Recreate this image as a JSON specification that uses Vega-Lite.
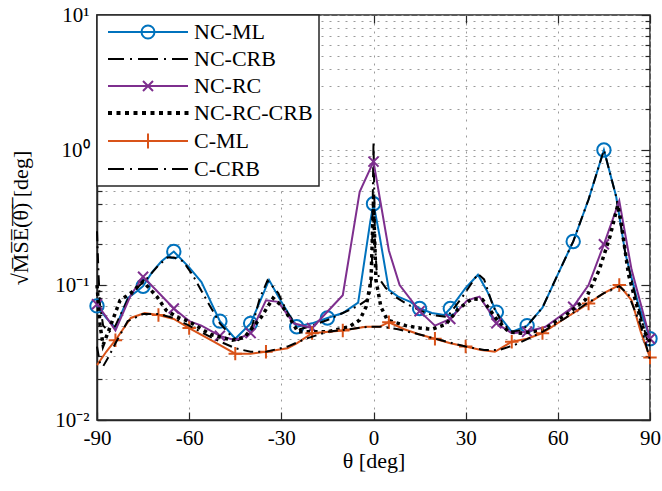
{
  "$schema": "https://vega.github.io/schema/vega-lite/v6.json",
  "width": 553,
  "height": 405,
  "autosize": {"type": "none"},
  "padding": {"left": 97, "top": 15, "right": 12, "bottom": 71},
  "background": "white",
  "config": {
    "font": "Liberation Serif",
    "view": {"stroke": "#262626", "strokeWidth": 1.5},
    "legend": {
      "orient": "top-left",
      "offset": 0,
      "padding": 6,
      "rowPadding": 5,
      "symbolSize": 400,
      "symbolStrokeWidth": 2,
      "symbolOffset": 34,
      "labelOffset": 35,
      "labelFont": "Liberation Serif",
      "labelFontSize": 22,
      "labelColor": "#000000",
      "labelLimit": 300,
      "fillColor": "white",
      "strokeColor": "#262626",
      "strokeWidth": 1.5,
      "symbolOpacity": 1,
      "symbolFillColor": "transparent"
    }
  },
  "datasets": {
    "curves": [
      {"s":"NC-ML","t":-90,"v":0.070},{"s":"NC-ML","t":-87,"v":0.057},{"s":"NC-ML","t":-84,"v":0.048},{"s":"NC-ML","t":-80,"v":0.080},{"s":"NC-ML","t":-77,"v":0.090},{"s":"NC-ML","t":-75,"v":0.098},{"s":"NC-ML","t":-72,"v":0.125},{"s":"NC-ML","t":-69,"v":0.150},{"s":"NC-ML","t":-65,"v":0.177},{"s":"NC-ML","t":-60,"v":0.135},{"s":"NC-ML","t":-56,"v":0.105},{"s":"NC-ML","t":-50,"v":0.054},{"s":"NC-ML","t":-45,"v":0.040},{"s":"NC-ML","t":-40,"v":0.052},{"s":"NC-ML","t":-37,"v":0.075},{"s":"NC-ML","t":-34,"v":0.109},{"s":"NC-ML","t":-30,"v":0.075},{"s":"NC-ML","t":-25,"v":0.049},{"s":"NC-ML","t":-20,"v":0.052},{"s":"NC-ML","t":-15,"v":0.057},{"s":"NC-ML","t":-10,"v":0.062},{"s":"NC-ML","t":-5,"v":0.074},{"s":"NC-ML","t":-1,"v":0.30},{"s":"NC-ML","t":0,"v":0.40},{"s":"NC-ML","t":2,"v":0.23},{"s":"NC-ML","t":5,"v":0.092},{"s":"NC-ML","t":8,"v":0.082},{"s":"NC-ML","t":12,"v":0.075},{"s":"NC-ML","t":15,"v":0.067},{"s":"NC-ML","t":19,"v":0.062},{"s":"NC-ML","t":23,"v":0.060},{"s":"NC-ML","t":25,"v":0.067},{"s":"NC-ML","t":30,"v":0.095},{"s":"NC-ML","t":34,"v":0.119},{"s":"NC-ML","t":37,"v":0.090},{"s":"NC-ML","t":40,"v":0.063},{"s":"NC-ML","t":45,"v":0.045},{"s":"NC-ML","t":50,"v":0.050},{"s":"NC-ML","t":55,"v":0.068},{"s":"NC-ML","t":60,"v":0.120},{"s":"NC-ML","t":65,"v":0.21},{"s":"NC-ML","t":70,"v":0.43},{"s":"NC-ML","t":75,"v":1.0},{"s":"NC-ML","t":79,"v":0.45},{"s":"NC-ML","t":82,"v":0.17},{"s":"NC-ML","t":86,"v":0.075},{"s":"NC-ML","t":90,"v":0.040},

      {"s":"NC-CRB","t":-90,"v":0.25},{"s":"NC-CRB","t":-89.5,"v":0.12},{"s":"NC-CRB","t":-89,"v":0.07},{"s":"NC-CRB","t":-88,"v":0.05},{"s":"NC-CRB","t":-86,"v":0.045},{"s":"NC-CRB","t":-84,"v":0.05},{"s":"NC-CRB","t":-80,"v":0.078},{"s":"NC-CRB","t":-77,"v":0.095},{"s":"NC-CRB","t":-74,"v":0.11},{"s":"NC-CRB","t":-70,"v":0.14},{"s":"NC-CRB","t":-67,"v":0.16},{"s":"NC-CRB","t":-65,"v":0.16},{"s":"NC-CRB","t":-62,"v":0.15},{"s":"NC-CRB","t":-59,"v":0.12},{"s":"NC-CRB","t":-54,"v":0.075},{"s":"NC-CRB","t":-50,"v":0.052},{"s":"NC-CRB","t":-46,"v":0.041},{"s":"NC-CRB","t":-44,"v":0.039},{"s":"NC-CRB","t":-40,"v":0.045},{"s":"NC-CRB","t":-37,"v":0.08},{"s":"NC-CRB","t":-34.5,"v":0.108},{"s":"NC-CRB","t":-31,"v":0.087},{"s":"NC-CRB","t":-28,"v":0.062},{"s":"NC-CRB","t":-24,"v":0.047},{"s":"NC-CRB","t":-20,"v":0.050},{"s":"NC-CRB","t":-15,"v":0.055},{"s":"NC-CRB","t":-10,"v":0.062},{"s":"NC-CRB","t":-5,"v":0.070},{"s":"NC-CRB","t":-2,"v":0.078},{"s":"NC-CRB","t":-1,"v":0.09},{"s":"NC-CRB","t":-0.5,"v":0.15},{"s":"NC-CRB","t":0,"v":1.15},{"s":"NC-CRB","t":0.5,"v":0.2},{"s":"NC-CRB","t":1,"v":0.13},{"s":"NC-CRB","t":2,"v":0.11},{"s":"NC-CRB","t":4,"v":0.095},{"s":"NC-CRB","t":7,"v":0.082},{"s":"NC-CRB","t":11,"v":0.072},{"s":"NC-CRB","t":15,"v":0.065},{"s":"NC-CRB","t":19,"v":0.060},{"s":"NC-CRB","t":24,"v":0.058},{"s":"NC-CRB","t":29,"v":0.082},{"s":"NC-CRB","t":34,"v":0.121},{"s":"NC-CRB","t":36,"v":0.11},{"s":"NC-CRB","t":39,"v":0.069},{"s":"NC-CRB","t":42,"v":0.052},{"s":"NC-CRB","t":45,"v":0.045},{"s":"NC-CRB","t":48,"v":0.046},{"s":"NC-CRB","t":50,"v":0.050},{"s":"NC-CRB","t":55,"v":0.068},{"s":"NC-CRB","t":60,"v":0.12},{"s":"NC-CRB","t":65,"v":0.21},{"s":"NC-CRB","t":70,"v":0.43},{"s":"NC-CRB","t":75,"v":1.0},{"s":"NC-CRB","t":79,"v":0.45},{"s":"NC-CRB","t":82,"v":0.17},{"s":"NC-CRB","t":86,"v":0.07},{"s":"NC-CRB","t":89,"v":0.04},{"s":"NC-CRB","t":90,"v":0.035},

      {"s":"NC-RC","t":-90,"v":0.072},{"s":"NC-RC","t":-87,"v":0.058},{"s":"NC-RC","t":-84,"v":0.046},{"s":"NC-RC","t":-79,"v":0.084},{"s":"NC-RC","t":-75,"v":0.115},{"s":"NC-RC","t":-70,"v":0.088},{"s":"NC-RC","t":-65,"v":0.067},{"s":"NC-RC","t":-60,"v":0.054},{"s":"NC-RC","t":-56,"v":0.050},{"s":"NC-RC","t":-50,"v":0.042},{"s":"NC-RC","t":-45,"v":0.039},{"s":"NC-RC","t":-40,"v":0.044},{"s":"NC-RC","t":-35,"v":0.077},{"s":"NC-RC","t":-31,"v":0.075},{"s":"NC-RC","t":-26,"v":0.052},{"s":"NC-RC","t":-20,"v":0.048},{"s":"NC-RC","t":-10,"v":0.084},{"s":"NC-RC","t":-4.5,"v":0.49},{"s":"NC-RC","t":0,"v":0.82},{"s":"NC-RC","t":5,"v":0.18},{"s":"NC-RC","t":8.5,"v":0.10},{"s":"NC-RC","t":15,"v":0.064},{"s":"NC-RC","t":20,"v":0.050},{"s":"NC-RC","t":25,"v":0.056},{"s":"NC-RC","t":30.5,"v":0.077},{"s":"NC-RC","t":34.5,"v":0.082},{"s":"NC-RC","t":38.5,"v":0.060},{"s":"NC-RC","t":40,"v":0.052},{"s":"NC-RC","t":45,"v":0.044},{"s":"NC-RC","t":50,"v":0.045},{"s":"NC-RC","t":56,"v":0.049},{"s":"NC-RC","t":65,"v":0.069},{"s":"NC-RC","t":70,"v":0.10},{"s":"NC-RC","t":75,"v":0.20},{"s":"NC-RC","t":80,"v":0.42},{"s":"NC-RC","t":84,"v":0.13},{"s":"NC-RC","t":90,"v":0.040},

      {"s":"NC-RC-CRB","t":-90,"v":0.10},{"s":"NC-RC-CRB","t":-89,"v":0.05},{"s":"NC-RC-CRB","t":-88,"v":0.036},{"s":"NC-RC-CRB","t":-86.5,"v":0.044},{"s":"NC-RC-CRB","t":-82.5,"v":0.077},{"s":"NC-RC-CRB","t":-79,"v":0.087},{"s":"NC-RC-CRB","t":-75,"v":0.106},{"s":"NC-RC-CRB","t":-70.5,"v":0.082},{"s":"NC-RC-CRB","t":-67.5,"v":0.065},{"s":"NC-RC-CRB","t":-64,"v":0.058},{"s":"NC-RC-CRB","t":-60,"v":0.0535},{"s":"NC-RC-CRB","t":-53,"v":0.043},{"s":"NC-RC-CRB","t":-46,"v":0.039},{"s":"NC-RC-CRB","t":-42,"v":0.041},{"s":"NC-RC-CRB","t":-36.5,"v":0.058},{"s":"NC-RC-CRB","t":-32.7,"v":0.080},{"s":"NC-RC-CRB","t":-29.5,"v":0.069},{"s":"NC-RC-CRB","t":-24.6,"v":0.045},{"s":"NC-RC-CRB","t":-20,"v":0.045},{"s":"NC-RC-CRB","t":-15,"v":0.045},{"s":"NC-RC-CRB","t":-8,"v":0.049},{"s":"NC-RC-CRB","t":-4.5,"v":0.055},{"s":"NC-RC-CRB","t":-2.4,"v":0.069},{"s":"NC-RC-CRB","t":-0.8,"v":0.109},{"s":"NC-RC-CRB","t":0,"v":0.42},{"s":"NC-RC-CRB","t":0.8,"v":0.109},{"s":"NC-RC-CRB","t":2.4,"v":0.069},{"s":"NC-RC-CRB","t":4.5,"v":0.055},{"s":"NC-RC-CRB","t":10.5,"v":0.050},{"s":"NC-RC-CRB","t":15,"v":0.048},{"s":"NC-RC-CRB","t":19,"v":0.047},{"s":"NC-RC-CRB","t":23.5,"v":0.051},{"s":"NC-RC-CRB","t":27.5,"v":0.066},{"s":"NC-RC-CRB","t":32,"v":0.079},{"s":"NC-RC-CRB","t":35.5,"v":0.078},{"s":"NC-RC-CRB","t":40,"v":0.056},{"s":"NC-RC-CRB","t":44,"v":0.045},{"s":"NC-RC-CRB","t":48,"v":0.044},{"s":"NC-RC-CRB","t":55,"v":0.046},{"s":"NC-RC-CRB","t":63.5,"v":0.062},{"s":"NC-RC-CRB","t":69,"v":0.078},{"s":"NC-RC-CRB","t":73.5,"v":0.13},{"s":"NC-RC-CRB","t":77,"v":0.23},{"s":"NC-RC-CRB","t":79.5,"v":0.39},{"s":"NC-RC-CRB","t":80.5,"v":0.30},{"s":"NC-RC-CRB","t":83,"v":0.12},{"s":"NC-RC-CRB","t":85.5,"v":0.073},{"s":"NC-RC-CRB","t":88,"v":0.046},{"s":"NC-RC-CRB","t":90,"v":0.038},

      {"s":"C-ML","t":-90,"v":0.0255},{"s":"C-ML","t":-87,"v":0.032},{"s":"C-ML","t":-84,"v":0.039},{"s":"C-ML","t":-79,"v":0.057},{"s":"C-ML","t":-74.5,"v":0.062},{"s":"C-ML","t":-70,"v":0.060},{"s":"C-ML","t":-65,"v":0.056},{"s":"C-ML","t":-60,"v":0.048},{"s":"C-ML","t":-52,"v":0.038},{"s":"C-ML","t":-45,"v":0.031},{"s":"C-ML","t":-40,"v":0.031},{"s":"C-ML","t":-35,"v":0.032},{"s":"C-ML","t":-28,"v":0.034},{"s":"C-ML","t":-25,"v":0.037},{"s":"C-ML","t":-20,"v":0.044},{"s":"C-ML","t":-10,"v":0.046},{"s":"C-ML","t":-2.5,"v":0.049},{"s":"C-ML","t":2,"v":0.049},{"s":"C-ML","t":5,"v":0.053},{"s":"C-ML","t":10,"v":0.047},{"s":"C-ML","t":15,"v":0.043},{"s":"C-ML","t":20,"v":0.040},{"s":"C-ML","t":25,"v":0.037},{"s":"C-ML","t":30,"v":0.035},{"s":"C-ML","t":35,"v":0.033},{"s":"C-ML","t":39.5,"v":0.032},{"s":"C-ML","t":45,"v":0.038},{"s":"C-ML","t":50,"v":0.040},{"s":"C-ML","t":55,"v":0.044},{"s":"C-ML","t":62,"v":0.056},{"s":"C-ML","t":70,"v":0.073},{"s":"C-ML","t":75,"v":0.087},{"s":"C-ML","t":80,"v":0.10},{"s":"C-ML","t":84,"v":0.077},{"s":"C-ML","t":87,"v":0.045},{"s":"C-ML","t":90,"v":0.029},

      {"s":"C-CRB","t":-90,"v":0.035},{"s":"C-CRB","t":-89,"v":0.026},{"s":"C-CRB","t":-88,"v":0.025},{"s":"C-CRB","t":-86,"v":0.030},{"s":"C-CRB","t":-84,"v":0.037},{"s":"C-CRB","t":-80,"v":0.054},{"s":"C-CRB","t":-75,"v":0.061},{"s":"C-CRB","t":-70,"v":0.061},{"s":"C-CRB","t":-65,"v":0.057},{"s":"C-CRB","t":-60,"v":0.050},{"s":"C-CRB","t":-52,"v":0.040},{"s":"C-CRB","t":-45,"v":0.034},{"s":"C-CRB","t":-40,"v":0.032},{"s":"C-CRB","t":-35,"v":0.032},{"s":"C-CRB","t":-28,"v":0.035},{"s":"C-CRB","t":-22,"v":0.040},{"s":"C-CRB","t":-15,"v":0.045},{"s":"C-CRB","t":-8,"v":0.047},{"s":"C-CRB","t":-2,"v":0.049},{"s":"C-CRB","t":3,"v":0.049},{"s":"C-CRB","t":8,"v":0.047},{"s":"C-CRB","t":15,"v":0.043},{"s":"C-CRB","t":22,"v":0.039},{"s":"C-CRB","t":30,"v":0.035},{"s":"C-CRB","t":36,"v":0.033},{"s":"C-CRB","t":41,"v":0.033},{"s":"C-CRB","t":46,"v":0.036},{"s":"C-CRB","t":55,"v":0.045},{"s":"C-CRB","t":62,"v":0.056},{"s":"C-CRB","t":69,"v":0.072},{"s":"C-CRB","t":75,"v":0.087},{"s":"C-CRB","t":80,"v":0.098},{"s":"C-CRB","t":83,"v":0.085},{"s":"C-CRB","t":87,"v":0.05},{"s":"C-CRB","t":90,"v":0.028}
    ],
    "markers": [
      {"s":"NC-ML","t":-90,"v":0.070},{"s":"NC-ML","t":-75,"v":0.098},{"s":"NC-ML","t":-65,"v":0.177},{"s":"NC-ML","t":-50,"v":0.054},{"s":"NC-ML","t":-40,"v":0.052},{"s":"NC-ML","t":-25,"v":0.049},{"s":"NC-ML","t":-15,"v":0.057},{"s":"NC-ML","t":0,"v":0.40},{"s":"NC-ML","t":15,"v":0.067},{"s":"NC-ML","t":25,"v":0.067},{"s":"NC-ML","t":40,"v":0.063},{"s":"NC-ML","t":50,"v":0.050},{"s":"NC-ML","t":65,"v":0.21},{"s":"NC-ML","t":75,"v":1.0},{"s":"NC-ML","t":90,"v":0.040},
      {"s":"NC-RC","t":-90,"v":0.072},{"s":"NC-RC","t":-75,"v":0.115},{"s":"NC-RC","t":-65,"v":0.067},{"s":"NC-RC","t":-50,"v":0.042},{"s":"NC-RC","t":-40,"v":0.044},{"s":"NC-RC","t":-20,"v":0.048},{"s":"NC-RC","t":0,"v":0.82},{"s":"NC-RC","t":15,"v":0.064},{"s":"NC-RC","t":25,"v":0.056},{"s":"NC-RC","t":40,"v":0.052},{"s":"NC-RC","t":50,"v":0.045},{"s":"NC-RC","t":65,"v":0.069},{"s":"NC-RC","t":75,"v":0.20},{"s":"NC-RC","t":90,"v":0.040},
      {"s":"C-ML","t":-84,"v":0.039},{"s":"C-ML","t":-70,"v":0.060},{"s":"C-ML","t":-60,"v":0.048},{"s":"C-ML","t":-45,"v":0.031},{"s":"C-ML","t":-35,"v":0.032},{"s":"C-ML","t":-20,"v":0.044},{"s":"C-ML","t":-10,"v":0.046},{"s":"C-ML","t":5,"v":0.053},{"s":"C-ML","t":20,"v":0.040},{"s":"C-ML","t":30,"v":0.035},{"s":"C-ML","t":45,"v":0.038},{"s":"C-ML","t":55,"v":0.044},{"s":"C-ML","t":70,"v":0.073},{"s":"C-ML","t":80,"v":0.10},{"s":"C-ML","t":90,"v":0.029}
    ]
  },
  "resolve": {"axis": {"x": "independent", "y": "independent"}},
  "encoding": {
    "x": {"field": "t", "type": "quantitative", "scale": {"domain": [-90, 90], "nice": false, "zero": false}, "axis": null},
    "y": {"field": "v", "type": "quantitative", "scale": {"type": "log", "domain": [0.01, 10], "nice": false}, "axis": null}
  },
  "layer": [
    {
      "data": {"name": "curves"}, "transform": [{"filter": "datum.s === 'NC-ML'"}],
      "mark": {"type": "line", "color": "#0072BD", "strokeWidth": 2},
      "encoding": {
        "x": {
          "field": "t", "type": "quantitative",
          "scale": {"domain": [-90, 90], "nice": false, "zero": false},
          "axis": {
            "orient": "bottom",
            "values": [-90, -60, -30, 0, 30, 60, 90],
            "labelExpr": "'' + datum.value",
            "title": "θ [deg]",
            "grid": true, "gridDash": [2, 6], "gridColor": "#9a9a9a", "gridWidth": 1,
            "tickSize": -8, "tickColor": "#262626", "tickWidth": 1.2,
            "domainColor": "#262626", "domainWidth": 1.5,
            "labelFont": "Liberation Serif", "labelFontSize": 21, "labelColor": "#000000",
            "labelPadding": 15, "labelFlush": false,
            "titleFont": "Liberation Serif", "titleFontSize": 22, "titleFontWeight": "normal", "titleColor": "#000000", "titlePadding": 2
          }
        },
        "y": {
          "field": "v", "type": "quantitative",
          "scale": {"type": "log", "domain": [0.01, 10], "nice": false},
          "axis": {
            "orient": "left",
            "values": [0.01,0.02,0.03,0.04,0.05,0.06,0.07,0.08,0.09,0.1,0.2,0.3,0.4,0.5,0.6,0.7,0.8,0.9,1,2,3,4,5,6,7,8,9,10],
            "labelExpr": "datum.value==10?'10¹':datum.value==1?'10⁰':datum.value==0.1?'10⁻¹':datum.value==0.01?'10⁻²':''",
            "title": "√M̅S̅E̅(̅θ̅)̅ [deg]",
            "grid": true, "gridDash": [2, 6], "gridColor": "#9a9a9a", "gridWidth": 1,
            "tickSize": {"condition": {"test": "datum.value==10||datum.value==1||datum.value==0.1||datum.value==0.01", "value": -9}, "value": -5},
            "tickColor": "#262626", "tickWidth": 1.2,
            "domainColor": "#262626", "domainWidth": 1.5,
            "labelFont": "Liberation Serif", "labelFontSize": 21, "labelColor": "#000000",
            "labelPadding": 17, "labelFlush": false,
            "titleFont": "Liberation Serif", "titleFontSize": 22, "titleFontWeight": "normal", "titleColor": "#000000", "titlePadding": 22
          }
        }
      }
    },
    {
      "data": {"name": "markers"}, "transform": [{"filter": "datum.s === 'NC-ML'"}],
      "mark": {"type": "point", "shape": "circle", "size": 180, "filled": false, "color": "#0072BD", "strokeWidth": 2, "opacity": 1},
      "encoding": {
        "x": {
          "field": "t", "type": "quantitative",
          "scale": {"domain": [-90, 90], "nice": false, "zero": false},
          "axis": {
            "orient": "top", "values": [-90, -60, -30, 0, 30, 60, 90],
            "labels": false, "title": null, "grid": false, "domain": false,
            "tickSize": -8, "tickColor": "#262626", "tickWidth": 1.2
          }
        },
        "y": {
          "field": "v", "type": "quantitative",
          "scale": {"type": "log", "domain": [0.01, 10], "nice": false},
          "axis": {
            "orient": "right",
            "values": [0.01,0.02,0.03,0.04,0.05,0.06,0.07,0.08,0.09,0.1,0.2,0.3,0.4,0.5,0.6,0.7,0.8,0.9,1,2,3,4,5,6,7,8,9,10],
            "labels": false, "title": null, "grid": false, "domain": false,
            "tickSize": {"condition": {"test": "datum.value==10||datum.value==1||datum.value==0.1||datum.value==0.01", "value": -9}, "value": -5},
            "tickColor": "#262626", "tickWidth": 1.2
          }
        }
      }
    },
    {"data": {"name": "curves"}, "transform": [{"filter": "datum.s === 'NC-CRB'"}], "mark": {"type": "line", "color": "#000000", "strokeWidth": 2, "strokeDash": [10, 5, 2, 5]}},
    {"data": {"name": "curves"}, "transform": [{"filter": "datum.s === 'NC-RC'"}], "mark": {"type": "line", "color": "#7E2F8E", "strokeWidth": 2}},
    {"data": {"name": "markers"}, "transform": [{"filter": "datum.s === 'NC-RC'"}], "mark": {"type": "point", "shape": "M-0.75,-0.75L0.75,0.75M-0.75,0.75L0.75,-0.75", "size": 180, "filled": false, "color": "#7E2F8E", "strokeWidth": 2, "opacity": 1}},
    {"data": {"name": "curves"}, "transform": [{"filter": "datum.s === 'NC-RC-CRB'"}], "mark": {"type": "line", "color": "#000000", "strokeWidth": 3.5, "strokeDash": [3.5, 4]}},
    {"data": {"name": "curves"}, "transform": [{"filter": "datum.s === 'C-ML'"}], "mark": {"type": "line", "color": "#D95319", "strokeWidth": 2}},
    {"data": {"name": "markers"}, "transform": [{"filter": "datum.s === 'C-ML'"}], "mark": {"type": "point", "shape": "M-1,0H1M0,-1V1", "size": 180, "filled": false, "color": "#D95319", "strokeWidth": 2, "opacity": 1}},
    {"data": {"name": "curves"}, "transform": [{"filter": "datum.s === 'C-CRB'"}], "mark": {"type": "line", "color": "#000000", "strokeWidth": 2, "strokeDash": [10, 5, 2, 5]}},
    {
      "data": {"name": "curves"},
      "mark": {"type": "point", "opacity": 0, "size": 400, "filled": false, "strokeWidth": 2},
      "encoding": {
        "color": {
          "field": "s", "type": "nominal",
          "scale": {"domain": ["NC-ML", "NC-CRB", "NC-RC", "NC-RC-CRB", "C-ML", "C-CRB"], "range": ["#0072BD", "#000000", "#7E2F8E", "#000000", "#D95319", "#000000"]},
          "legend": {"title": null}
        },
        "shape": {
          "field": "s", "type": "nominal",
          "scale": {
            "domain": ["NC-ML", "NC-CRB", "NC-RC", "NC-RC-CRB", "C-ML", "C-CRB"],
            "range": [
              "M-4,0H4M0.65,0A0.65,0.65,0,1,1,-0.65,0A0.65,0.65,0,1,1,0.65,0",
              "M-4,0H-2.4M-1.8,0H-1.6M-1,0H1M1.6,0H1.8M2.4,0H4",
              "M-4,0H4M-0.5,-0.5L0.5,0.5M-0.5,0.5L0.5,-0.5",
              "M-3.9,-0.1h0.2v0.2h-0.2zM-3.05,-0.1h0.2v0.2h-0.2zM-2.2,-0.1h0.2v0.2h-0.2zM-1.35,-0.1h0.2v0.2h-0.2zM-0.5,-0.1h0.2v0.2h-0.2zM0.35,-0.1h0.2v0.2h-0.2zM1.2,-0.1h0.2v0.2h-0.2zM2.05,-0.1h0.2v0.2h-0.2zM2.9,-0.1h0.2v0.2h-0.2zM3.75,-0.1h0.2v0.2h-0.2z",
              "M-4,0H4M0,-0.75V0.75",
              "M-4,0H-2.4M-1.8,0H-1.6M-1,0H1M1.6,0H1.8M2.4,0H4"
            ]
          },
          "legend": {"title": null}
        }
      }
    }
  ]
}
